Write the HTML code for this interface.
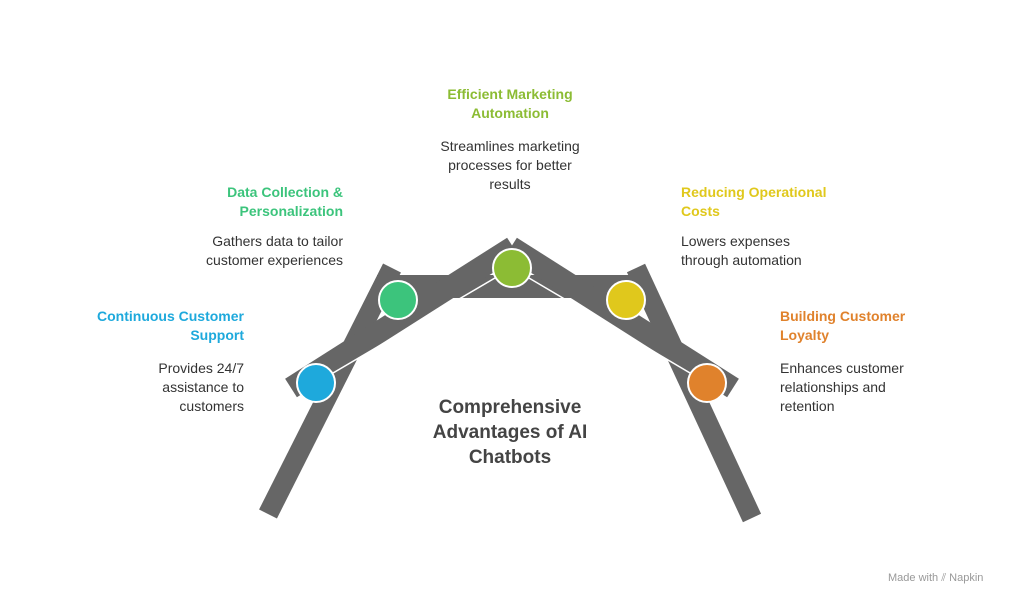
<!DOCTYPE html>
<html><head><meta charset="utf-8"><style>
body{margin:0;background:#fff;width:1024px;height:605px;overflow:hidden;position:relative;font-family:"Liberation Sans",sans-serif}
.t{position:absolute;font-size:14px;line-height:19px;color:#333}
.h{font-weight:bold}
.r{text-align:right}.c{text-align:center}
</style></head><body>
<svg width="1024" height="605" style="position:absolute;left:0;top:0">
<g fill="#666">
<polygon points="377,275 647,275 647,298 563,298 462,298 377,298"/>
</g>
<g stroke="#666" stroke-width="20" stroke-linecap="butt">
<line x1="268" y1="514" x2="392" y2="268"/>
<line x1="752" y1="518" x2="636" y2="268"/>
</g>
<g stroke="#666" stroke-width="22" stroke-linecap="butt">
<line x1="291" y1="388" x2="513" y2="247"/>
<line x1="733" y1="388" x2="511" y2="247"/>
</g>
<g stroke="#fff" stroke-width="1.5">
<line x1="316" y1="383" x2="512" y2="268"/>
<line x1="512" y1="268" x2="707" y2="383"/>
</g>
<g stroke="#fff" stroke-width="2">
<circle cx="316" cy="383" r="19" fill="#1ea9dc"/>
<circle cx="398" cy="300" r="19" fill="#3cc47c"/>
<circle cx="512" cy="268" r="19" fill="#8cbc34"/>
<circle cx="626" cy="300" r="19" fill="#e0c81c"/>
<circle cx="707" cy="383" r="19" fill="#e0822c"/>
</g>
</svg>
<div class="t h r" style="right:780px;top:307px;color:#1ea9dc">Continuous Customer<br>Support</div>
<div class="t r" style="right:780px;top:359px">Provides 24/7<br>assistance to<br>customers</div>
<div class="t h r" style="right:681px;top:183px;color:#3cc47c">Data Collection &amp;<br>Personalization</div>
<div class="t r" style="right:681px;top:232px">Gathers data to tailor<br>customer experiences</div>
<div class="t h c" style="left:410px;width:200px;top:85px;color:#8cbc34">Efficient Marketing<br>Automation</div>
<div class="t c" style="left:410px;width:200px;top:137px">Streamlines marketing<br>processes for better<br>results</div>
<div class="t h" style="left:681px;top:183px;color:#e0c81c">Reducing Operational<br>Costs</div>
<div class="t" style="left:681px;top:232px">Lowers expenses<br>through automation</div>
<div class="t h" style="left:780px;top:307px;color:#e0822c">Building Customer<br>Loyalty</div>
<div class="t" style="left:780px;top:359px">Enhances customer<br>relationships and<br>retention</div>
<div class="t h c" style="left:380px;width:260px;top:395px;font-size:19px;line-height:25px;color:#444">Comprehensive<br>Advantages of AI<br>Chatbots</div>
<div class="t" style="left:888px;top:569px;font-size:11px;color:#999">Made with ⫽ Napkin</div>
</body></html>
